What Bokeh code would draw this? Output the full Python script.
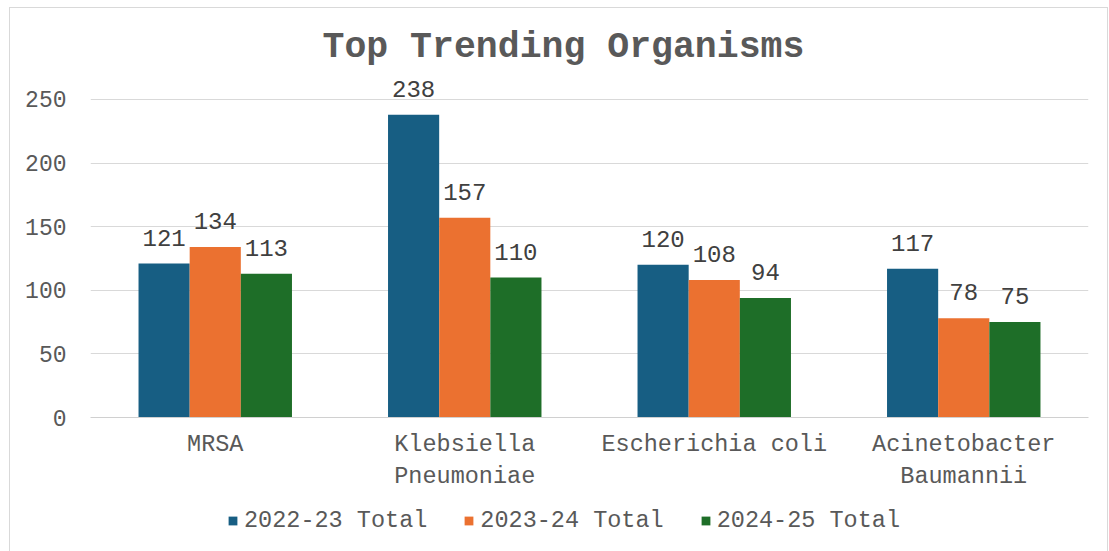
from bokeh.plotting import figure
from bokeh.layouts import column
from bokeh.models import ColumnDataSource, FactorRange, FixedTicker, Legend, LegendItem
from bokeh.transform import dodge
from bokeh.core.properties import value
from bokeh.embed import file_html
from bokeh.resources import INLINE

categories = ["MRSA", "Klebsiella\nPneumoniae", "Escherichia coli", "Acinetobacter\nBaumannii"]
series_names = ["2022-23 Total", "2023-24 Total", "2024-25 Total"]
s2022 = [121, 238, 120, 117]
s2023 = [134, 157, 108, 78]
s2024 = [113, 110, 94, 75]
y_ticks = [0, 50, 100, 150, 200, 250]
colors = ["#175E83", "#EB7130", "#1E6E28"]

FONT = "Liberation Mono"

src = ColumnDataSource(dict(
    cat=categories, a=s2022, b=s2023, c=s2024,
    al=[str(v) for v in s2022], bl=[str(v) for v in s2023], cl=[str(v) for v in s2024],
))

p = figure(x_range=FactorRange(*categories, range_padding=0), y_range=(0, 272),
           frame_width=998, frame_height=346, output_backend="svg", toolbar_location=None,
           min_border_left=80, min_border_right=19, min_border_top=63, min_border_bottom=70)
p.outline_line_color = None

w = 0.205
offs = [-0.205, 0.0, 0.205]
renderers = []
for col, lab, off, colr in zip(["a", "b", "c"], ["al", "bl", "cl"], offs, colors):
    r = p.vbar(x=dodge("cat", off, range=p.x_range), top=col, width=w, source=src,
               fill_color=colr, line_color=None)
    renderers.append(r)
    p.text(x=dodge("cat", off, range=p.x_range), y=col, text=lab, source=src,
           text_align="center", text_baseline="bottom", y_offset=-18,
           text_font=value(FONT), text_font_size="24px", text_color="#404040")

# title
p.title.text = "Top Trending Organisms"
p.title.align = "left"
p.title.offset = 232
p.title.standoff = 8
p.title.text_font = FONT
p.title.text_font_size = "36.5px"
p.title.text_font_style = "bold"
p.title.text_color = "#595959"

# axes
p.yaxis.ticker = FixedTicker(ticks=y_ticks)
p.yaxis.axis_line_color = None
p.yaxis.major_tick_line_color = None
p.yaxis.minor_tick_line_color = None
p.yaxis.major_label_text_font = FONT
p.yaxis.major_label_text_font_size = "23px"
p.yaxis.major_label_text_color = "#595959"
p.yaxis.major_label_standoff = 18

p.xaxis.axis_line_color = "#d0d0d0"
p.xaxis.major_tick_line_color = None
p.xaxis.minor_tick_line_color = None
p.xaxis.major_label_text_font = FONT
p.xaxis.major_label_text_font_size = "23.5px"
p.xaxis.major_label_text_color = "#595959"
p.xaxis.major_label_standoff = 7
p.xgrid.grid_line_color = None
p.ygrid.grid_line_color = "#d9d9d9"

# legend strip (separate canvas below the chart, same series colours)
p2 = figure(width=1097, height=60, output_backend="svg", toolbar_location=None,
            x_range=(0, 1), y_range=(0, 1),
            x_axis_type=None, y_axis_type=None, min_border=0)
p2.outline_line_color = None
p2.xgrid.grid_line_color = None
p2.ygrid.grid_line_color = None
leg_renderers = [p2.vbar(x=[-5], top=[-5], bottom=[-6], width=0.1, fill_color=c, line_color=None)
                 for c in colors]
legend = Legend(items=[LegendItem(label=n, renderers=[r]) for n, r in zip(series_names, leg_renderers)],
                orientation="horizontal", location=(137, 18),
                label_text_font=FONT, label_text_font_size="23.5px", label_text_color="#595959",
                glyph_width=11, glyph_height=11, label_standoff=6, spacing=36,
                border_line_color=None, background_fill_alpha=0, padding=4, margin=0)
p2.add_layout(legend, "center")

layout = column(p, p2, spacing=0, styles={"border": "1px solid #d9d9d9"}, margin=(7, 0, 0, 9))

open("out.html", "w").write(file_html(layout, INLINE))
